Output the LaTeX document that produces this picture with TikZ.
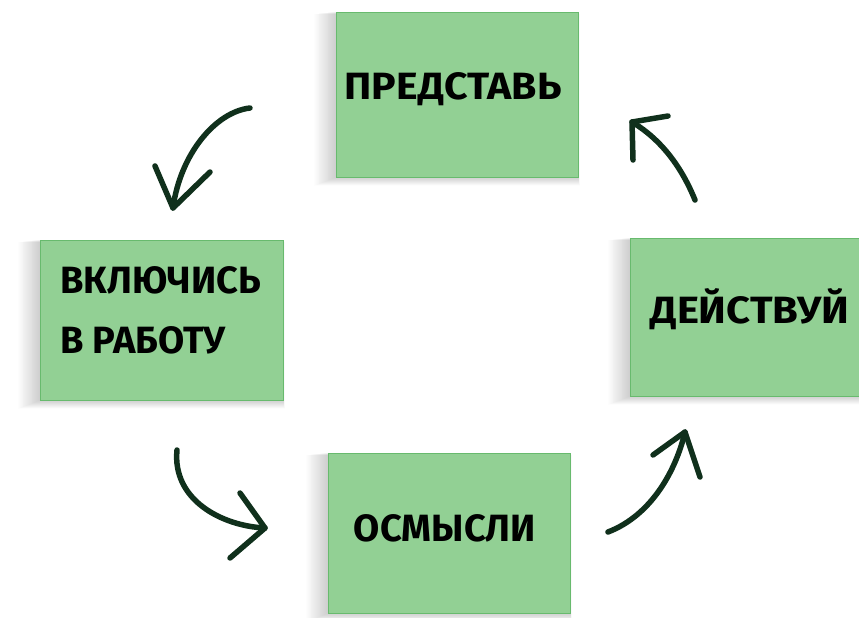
\documentclass[tikz,border=0pt]{standalone}
\usepackage{fontspec}
\setmainfont{Fira Sans}
\usetikzlibrary{backgrounds}
\definecolor{boxfill}{RGB}{146,208,148}
\definecolor{boxline}{RGB}{104,186,110}
\definecolor{arrowc}{RGB}{16,48,28}
\tikzset{
  stepbox/.style={fill=boxfill, draw=boxline, line width=0.8pt,
    minimum width=#1, inner sep=0pt},
  steptext/.style={inner sep=0pt, font=\fontsize{38}{60}\selectfont\bfseries},
  handarrow/.style={draw=arrowc, line width=5.5pt, line cap=round, line join=round}
}
\begin{document}
\begin{tikzpicture}[x=1pt,y=-1pt]
\useasboundingbox (0,0) rectangle (859,618);
% boxes
\node[stepbox=242pt, minimum height=165pt] (pr) at (457,94.5) {};
\node[stepbox=243pt, minimum height=160pt] (vk) at (161.5,320) {};
\node[stepbox=229pt, minimum height=158pt] (de) at (744.5,317) {};
\node[stepbox=242pt, minimum height=160pt] (os) at (449,533) {};
% texts
\node[steptext] (prt) at (453,89) {\scalebox{1.08}[1]{ПРЕДСТАВЬ}};
\node[steptext, align=left, anchor=west] (vkt) at (60,310) {ВКЛЮЧИСЬ\\В РАБОТУ};
\node[steptext] (det) at (750,309) {\scalebox{1.1}[1]{ДЕЙСТВУЙ}};
\node[steptext] (ost) at (445,528) {ОСМЫСЛИ};
% soft shadows
\begin{scope}[on background layer]
\foreach \n in {pr,vk,de,os}{
  \foreach \i in {1,...,24}{
    \fill[black, opacity=0.007] ([shift={(-0.9*\i pt,-0.1*\i pt)}]\n.north west)
      rectangle ([shift={(0.05*\i pt,-0.35*\i pt)}]\n.south east);
  }
}
\end{scope}
% arrow coordinates
\coordinate (a1s) at (250,108); \coordinate (a1t) at (173,208);
\coordinate (a1b) at (155,166); \coordinate (a1c) at (210,172);
\coordinate (a2s) at (695,200); \coordinate (a2t) at (632,122);
\coordinate (a2b) at (633,160); \coordinate (a2c) at (668,116);
\coordinate (a3s) at (177,450); \coordinate (a3t) at (265,528);
\coordinate (a3b) at (240,493); \coordinate (a3c) at (230,558);
\coordinate (a4s) at (608,532); \coordinate (a4t) at (685,432);
\coordinate (a4b) at (653,455); \coordinate (a4c) at (700,477);
% arrows
\draw[handarrow] (a1s) .. controls (215,112) and (180,155) .. (a1t);
\draw[handarrow] (a1b) -- (a1t) -- (a1c);
\draw[handarrow] (a2s) .. controls (682,168) and (662,140) .. (a2t);
\draw[handarrow] (a2b) -- (a2t) -- (a2c);
\draw[handarrow] (a3s) .. controls (172,500) and (222,526) .. (a3t);
\draw[handarrow] (a3b) -- (a3t) -- (a3c);
\draw[handarrow] (a4s) .. controls (652,515) and (676,470) .. (a4t);
\draw[handarrow] (a4b) -- (a4t) -- (a4c);
\end{tikzpicture}
\end{document}
